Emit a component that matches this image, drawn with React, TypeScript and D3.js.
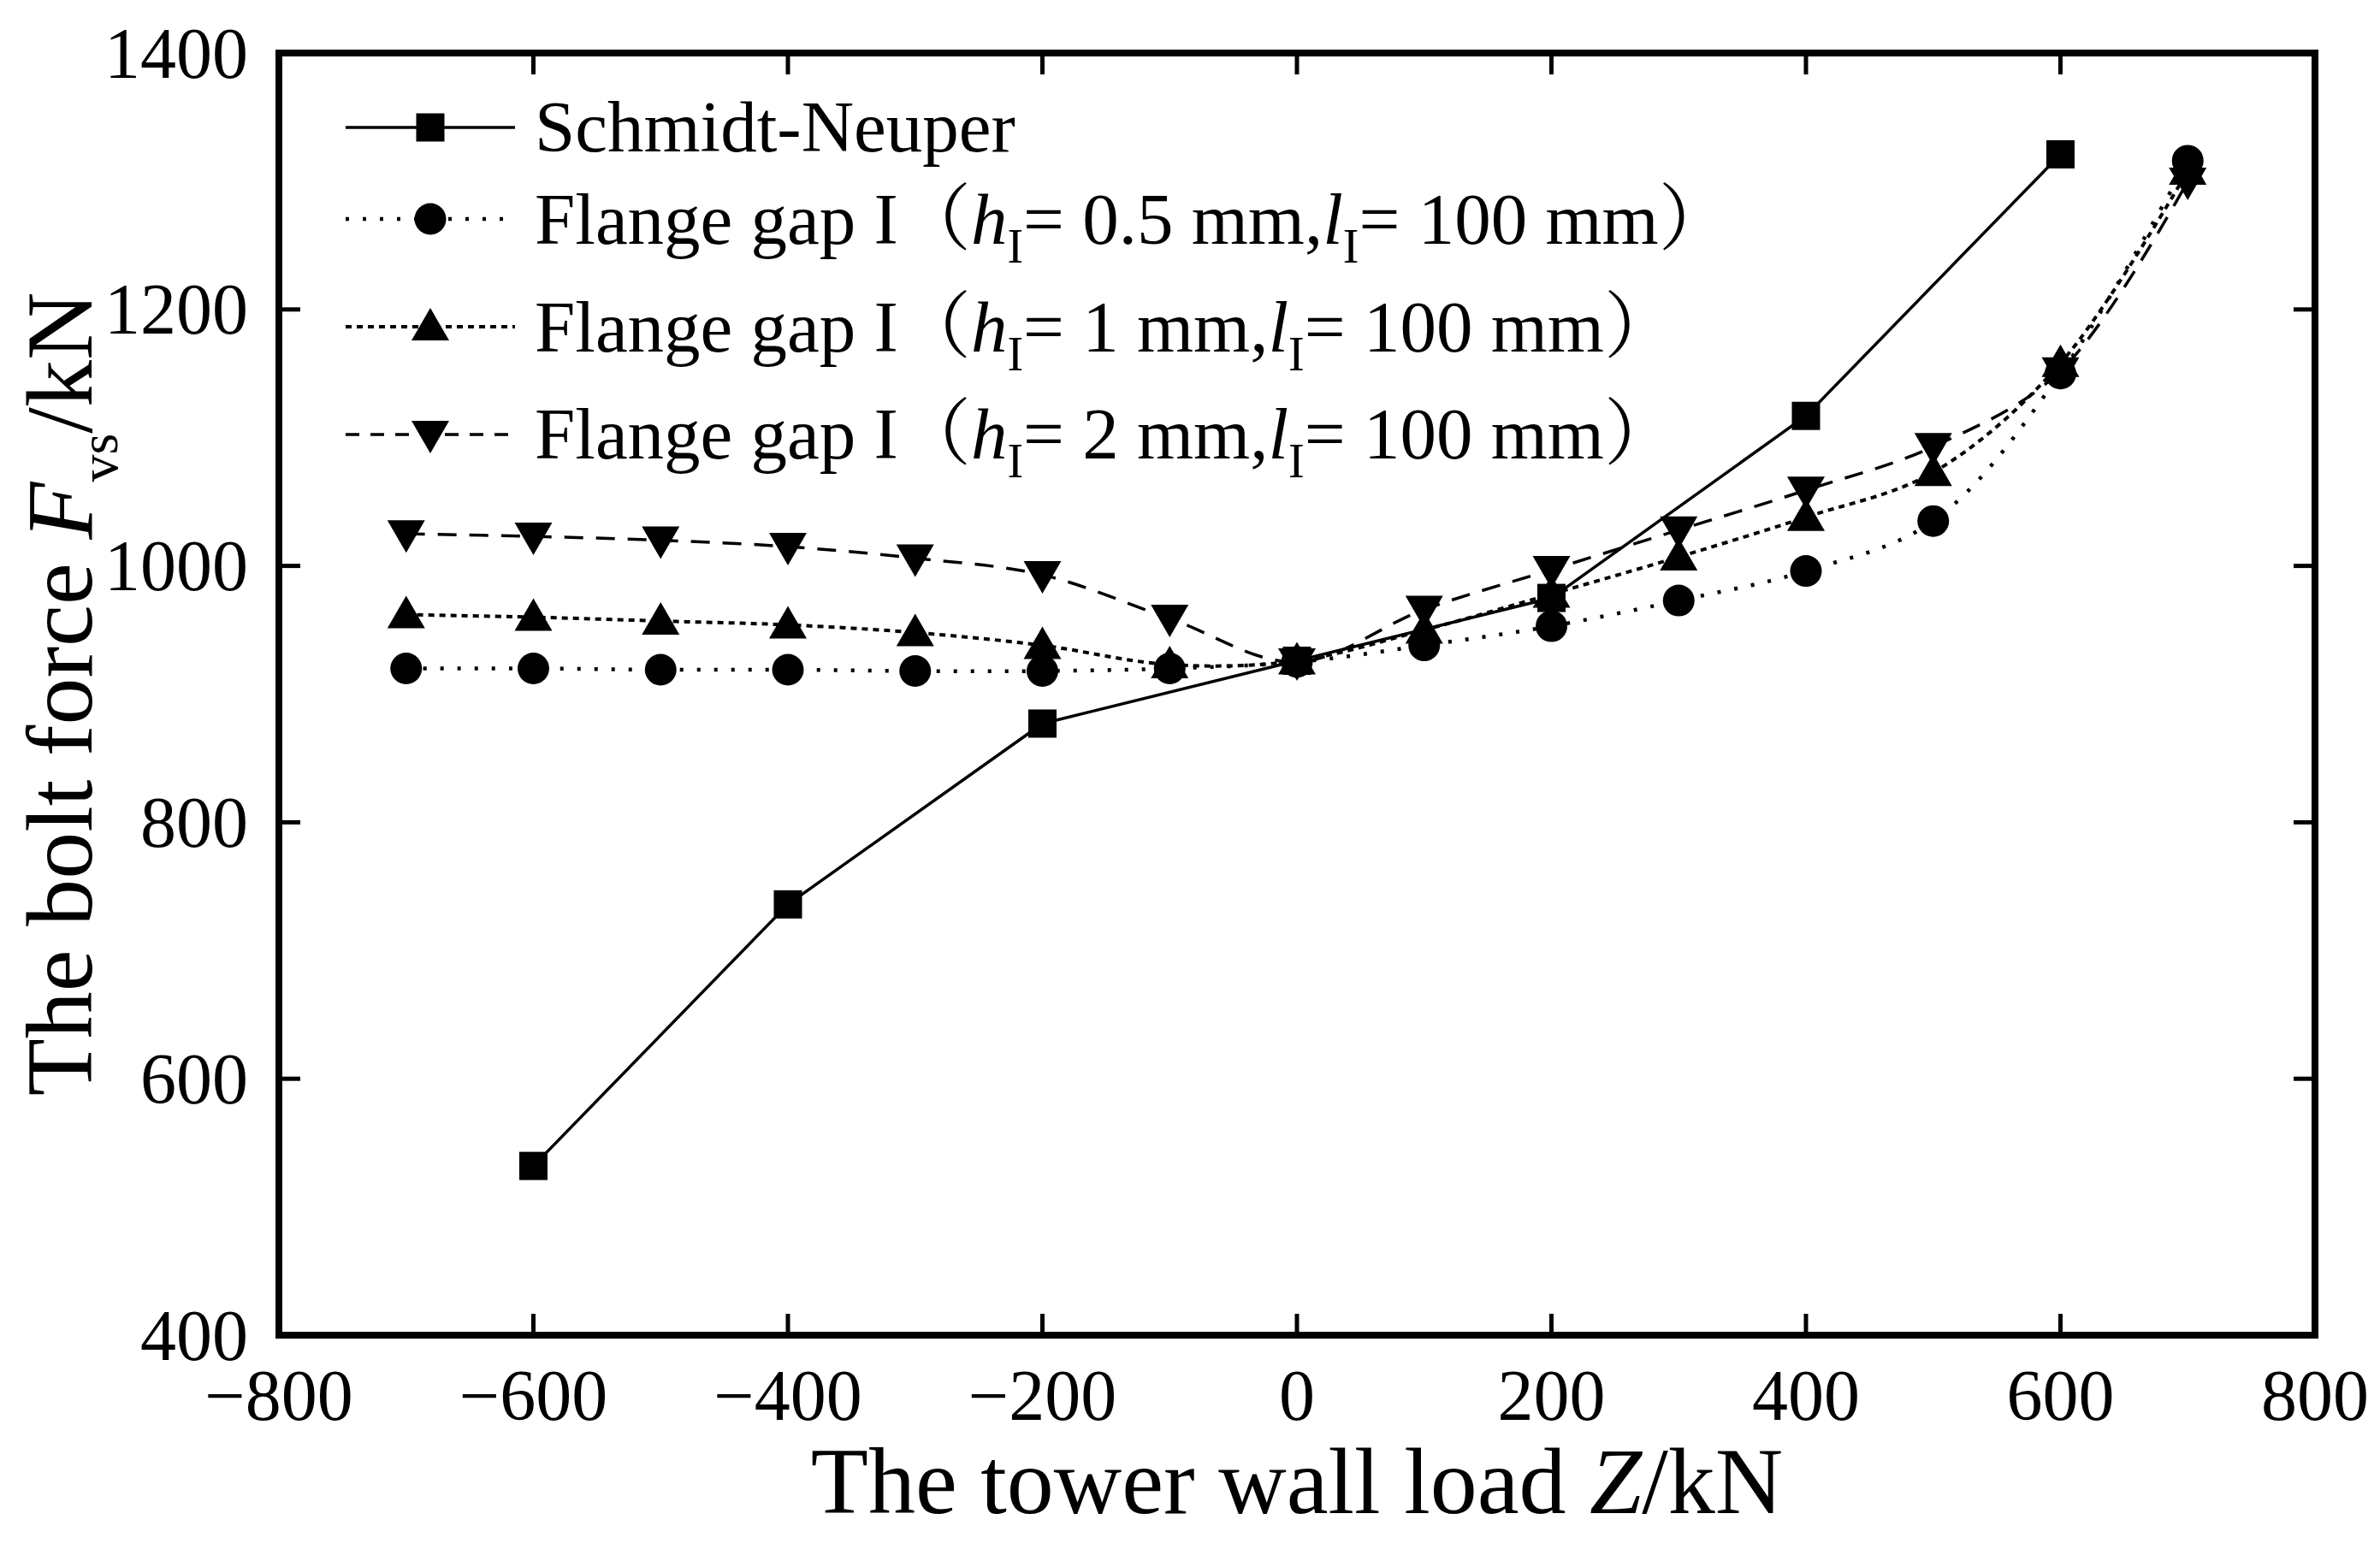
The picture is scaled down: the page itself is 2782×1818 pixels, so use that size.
import React from 'react';
import * as d3 from 'd3';

// Schmidt-Neuper analytic curve
const schmidtLoads = [-600, -400, -200, 0, 200, 400, 600];
const schmidtForces = [532, 736, 877, 926, 975, 1117, 1321];

// FE results for flange gap I, l = 100 mm
const gapLoads = [-700, -600, -500, -400, -300, -200, -100, 0, 100, 200, 300, 400, 500, 600, 700];
const gap05 = [920, 920, 919, 919, 918, 918, 920, 925, 938, 953, 973, 996, 1035, 1150, 1316];
const gap1 = [962, 960, 957, 954, 948, 938, 923, 926, 950, 978, 1007, 1038, 1073, 1158, 1308];
const gap2 = [1025, 1023, 1020, 1015, 1006, 993, 959, 925, 966, 997, 1028, 1059, 1093, 1152, 1300];

const xTicks = [-800, -600, -400, -200, 0, 200, 400, 600, 800];
const yTicks = [400, 600, 800, 1000, 1200, 1400];
const gapHeights = ['0.5', '1', '2'];

const W = 2782;
const H = 1818;
const margin = { left: 326, right: 76, top: 62, bottom: 257 };
const FONT = '"Liberation Serif", "Times New Roman", "Noto Serif CJK SC", "Noto Sans CJK SC", serif';

type Marker = 'square' | 'circle' | 'up' | 'down';

const MarkerShape: React.FC<{ kind: Marker; x: number; y: number }> = ({ kind, x, y }) => {
  if (kind === 'square') return <rect x={x - 16.5} y={y - 16.5} width={33} height={33} fill="#000" />;
  if (kind === 'circle') return <circle cx={x} cy={y} r={18.5} fill="#000" />;
  if (kind === 'up') return <path d={`M${x},${y - 22} L${x + 22},${y + 16} L${x - 22},${y + 16} Z`} fill="#000" />;
  return <path d={`M${x},${y + 22} L${x + 22},${y - 16} L${x - 22},${y - 16} Z`} fill="#000" />;
};

const App: React.FC = () => {
  const x = d3.scaleLinear().domain([-800, 800]).range([margin.left, W - margin.right]);
  const y = d3.scaleLinear().domain([400, 1400]).range([H - margin.bottom, margin.top]);

  const straight = d3.line<[number, number]>().x(d => x(d[0])).y(d => y(d[1]));
  const spline = d3.line<[number, number]>()
    .x(d => x(d[0]))
    .y(d => y(d[1]))
    .curve(d3.curveCatmullRom.alpha(0.5));

  const series = [
    { kind: 'down' as Marker, xs: gapLoads, ys: gap2, dash: '22 15', width: 3.5, gen: spline },
    { kind: 'up' as Marker, xs: gapLoads, ys: gap1, dash: '7 6', width: 4, gen: spline },
    { kind: 'circle' as Marker, xs: gapLoads, ys: gap05, dash: '4 16', width: 4.5, gen: spline },
    { kind: 'square' as Marker, xs: schmidtLoads, ys: schmidtForces, dash: undefined, width: 3.5, gen: straight },
  ];

  const x0 = x(-800), x1 = x(800), y0 = y(400), y1 = y(1400);
  const tick = 25;

  // legend rows, top to bottom
  const legendRows: { kind: Marker; dash?: string; width: number; cy: number; base: number; h?: string }[] = [
    { kind: 'square', width: 3.5, cy: 149, base: 177 },
    { kind: 'circle', dash: '4 16', width: 4.5, cy: 256, base: 285, h: gapHeights[0] },
    { kind: 'up', dash: '7 6', width: 4, cy: 382, base: 411, h: gapHeights[1] },
    { kind: 'down', dash: '16 13', width: 3.5, cy: 508, base: 536, h: gapHeights[2] },
  ];

  return (
    <svg width={W} height={H} style={{ position: 'absolute', left: 0, top: 0, background: '#fff' }} fontFamily={FONT}>
      <rect x={0} y={0} width={W} height={H} fill="#fff" />

      {/* data */}
      {series.map((s, i) => {
        const pts = s.xs.map((v, j) => [v, s.ys[j]] as [number, number]);
        return (
          <g key={i}>
            <path d={s.gen(pts) || ''} fill="none" stroke="#000" strokeWidth={s.width} strokeDasharray={s.dash} />
            {pts.map((p, j) => <MarkerShape key={j} kind={s.kind} x={x(p[0])} y={y(p[1])} />)}
          </g>
        );
      })}

      {/* ticks, inward on all four sides */}
      {xTicks.map(t => (
        <g key={`xt${t}`} stroke="#000" strokeWidth={5}>
          <line x1={x(t)} x2={x(t)} y1={y0} y2={y0 - tick} />
          <line x1={x(t)} x2={x(t)} y1={y1} y2={y1 + tick} />
        </g>
      ))}
      {yTicks.map(t => (
        <g key={`yt${t}`} stroke="#000" strokeWidth={5}>
          <line x1={x0} x2={x0 + tick} y1={y(t)} y2={y(t)} />
          <line x1={x1} x2={x1 - tick} y1={y(t)} y2={y(t)} />
        </g>
      ))}
      <rect x={x0} y={y1} width={x1 - x0} height={y0 - y1} fill="none" stroke="#000" strokeWidth={8} />

      {/* tick labels */}
      {xTicks.map(t => (
        <text key={`xl${t}`} x={x(t)} y={1660} fontSize={84} textAnchor="middle">
          {t < 0 ? `\u2212${-t}` : `${t}`}
        </text>
      ))}
      {yTicks.map(t => (
        <text key={`yl${t}`} x={290} y={y(t)} fontSize={84} textAnchor="end" dominantBaseline="central">
          {t}
        </text>
      ))}

      {/* axis titles */}
      <text x={(x0 + x1) / 2} y={1769} fontSize={110} textAnchor="middle">
        The tower wall load <tspan fontStyle="italic">Z</tspan>/kN
      </text>
      <text transform={`translate(107,${(y0 + y1) / 2}) rotate(-90)`} fontSize={110} textAnchor="middle">
        The bolt force <tspan fontStyle="italic">F</tspan>
        <tspan fontSize={64} dy={30}>vs</tspan>
        <tspan dy={-30}>/kN</tspan>
      </text>

      {/* legend */}
      {legendRows.map((r, i) => (
        <g key={`lg${i}`}>
          <line x1={404} x2={602} y1={r.cy} y2={r.cy} stroke="#000" strokeWidth={r.width} strokeDasharray={r.dash} />
          <MarkerShape kind={r.kind} x={503} y={r.cy} />
          {r.h === undefined ? (
            <text x={625} y={r.base} fontSize={85}>Schmidt-Neuper</text>
          ) : (
            <text x={625} y={r.base} fontSize={85}>
              Flange gap I（<tspan fontStyle="italic">h</tspan>
              <tspan fontSize={56} dy={22}>I</tspan>
              <tspan dy={-22}>= {r.h} mm,</tspan>
              <tspan fontStyle="italic">l</tspan>
              <tspan fontSize={56} dy={22}>I</tspan>
              <tspan dy={-22}>= 100 mm）</tspan>
            </text>
          )}
        </g>
      ))}
    </svg>
  );
};

export default App;
